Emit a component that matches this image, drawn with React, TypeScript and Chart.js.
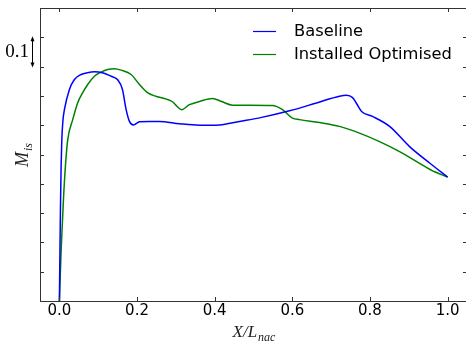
import React, { useEffect, useRef } from "react";
import { Chart, registerables } from "chart.js";

Chart.register(...registerables);

const seriesNames = ["Baseline", "Installed Optimised"];
const seriesColors = ["#0000ff", "#008000"];

const baselineX = [0, 0.0026, 0.0044, 0.0062, 0.009, 0.0129, 0.0258, 0.0387, 0.0559, 0.0722, 0.0902, 0.1108, 0.1332, 0.1495, 0.1624, 0.1719, 0.1804, 0.1907, 0.2062, 0.232, 0.2577, 0.3093, 0.3608, 0.4124, 0.4639, 0.5155, 0.5928, 0.6624, 0.7216, 0.7397, 0.7552, 0.7655, 0.7784, 0.8067, 0.8505, 0.9021, 0.9536, 1.0];
const baselineY = [0, 0.31, 0.46, 0.55, 0.615, 0.653, 0.722, 0.756, 0.773, 0.779, 0.782, 0.779, 0.767, 0.756, 0.722, 0.653, 0.613, 0.601, 0.612, 0.613, 0.613, 0.605, 0.6, 0.601, 0.613, 0.625, 0.649, 0.676, 0.699, 0.702, 0.694, 0.674, 0.647, 0.63, 0.596, 0.527, 0.471, 0.423];

const optimisedX = [0, 0.0044, 0.0103, 0.016, 0.0214, 0.0343, 0.0472, 0.0601, 0.0729, 0.0902, 0.1075, 0.1245, 0.1418, 0.159, 0.1848, 0.2062, 0.2268, 0.25, 0.2758, 0.2912, 0.3041, 0.3144, 0.3351, 0.3608, 0.3943, 0.4175, 0.4459, 0.4897, 0.549, 0.5747, 0.6005, 0.6186, 0.6701, 0.7216, 0.7732, 0.8247, 0.8763, 0.9278, 0.9665, 1.0];
const optimisedY = [0, 0.172, 0.344, 0.47, 0.55, 0.619, 0.677, 0.711, 0.739, 0.767, 0.781, 0.79, 0.793, 0.788, 0.773, 0.739, 0.711, 0.698, 0.689, 0.68, 0.663, 0.653, 0.67, 0.681, 0.691, 0.681, 0.668, 0.668, 0.667, 0.653, 0.624, 0.619, 0.609, 0.596, 0.573, 0.544, 0.51, 0.47, 0.441, 0.423];

const xTickValues = [0, 0.2, 0.4, 0.6, 0.8, 1.0];
const yTickValues = [0, 0.1, 0.2, 0.3, 0.4, 0.5, 0.6, 0.7, 0.8, 0.9, 1.0];
const xAxisTitle = ["X/L", "nac"];
const yAxisTitle = ["M", "is"];
const scaleBarLabel = "0.1";
const scaleBarRange = [0.8, 0.9];

const toPoints = (xs: number[], ys: number[]) => xs.map((x, i) => ({ x, y: ys[i] }));

const decorPlugin = {
  id: "decor",
  afterDraw(chart: any) {
    const ctx = chart.ctx as CanvasRenderingContext2D;
    const { left, right, top, bottom } = chart.chartArea;
    const xs = chart.scales.x;
    const ys = chart.scales.y;
    ctx.save();
    // frame
    ctx.strokeStyle = "#333";
    ctx.lineWidth = 1;
    ctx.strokeRect(Math.round(left) + 0.5, Math.round(top) + 0.5, Math.round(right) - Math.round(left), Math.round(bottom) - Math.round(top));
    // inward ticks
    ctx.beginPath();
    for (const v of xTickValues) {
      const px = Math.round(xs.getPixelForValue(v)) + 0.5;
      ctx.moveTo(px, bottom);
      ctx.lineTo(px, bottom - 4);
      ctx.moveTo(px, top);
      ctx.lineTo(px, top + 4);
    }
    for (const v of yTickValues) {
      const py = Math.round(ys.getPixelForValue(v)) + 0.5;
      ctx.moveTo(left, py);
      ctx.lineTo(left + 4, py);
      ctx.moveTo(right, py);
      ctx.lineTo(right - 4, py);
    }
    ctx.stroke();

    // legend
    ctx.textBaseline = "middle";
    ctx.textAlign = "left";
    ctx.font = "16.3px 'DejaVu Sans'";
    seriesNames.forEach((name, i) => {
      const y = 31 + i * 23;
      ctx.strokeStyle = seriesColors[i];
      ctx.lineWidth = 1.2;
      ctx.beginPath();
      ctx.moveTo(253, y + 0.5);
      ctx.lineTo(276, y + 0.5);
      ctx.stroke();
      ctx.fillStyle = "#000";
      ctx.fillText(name, 294, y + 1);
    });

    // x axis title
    ctx.fillStyle = "#222";
    ctx.textBaseline = "alphabetic";
    const cx = (left + right) / 2;
    ctx.font = "italic 17px 'Liberation Serif'";
    const w1 = ctx.measureText(xAxisTitle[0]).width;
    ctx.font = "italic 12px 'Liberation Serif'";
    const w2 = ctx.measureText(xAxisTitle[1]).width;
    const sx = cx - (w1 + w2) / 2;
    ctx.font = "italic 17px 'Liberation Serif'";
    ctx.fillText(xAxisTitle[0], sx, 337);
    ctx.font = "italic 12px 'Liberation Serif'";
    ctx.fillText(xAxisTitle[1], sx + w1 + 1, 341);

    // y axis title
    ctx.save();
    ctx.translate(28, 167);
    ctx.rotate(-Math.PI / 2);
    ctx.font = "italic 18px 'Liberation Serif'";
    ctx.fillText(yAxisTitle[0], 0, 0);
    const wm = ctx.measureText(yAxisTitle[0]).width;
    ctx.font = "italic 12px 'Liberation Serif'";
    ctx.fillText(yAxisTitle[1], wm + 1, 4);
    ctx.restore();

    // scale bar
    const y1 = ys.getPixelForValue(scaleBarRange[1]);
    const y0 = ys.getPixelForValue(scaleBarRange[0]);
    const ax = 32.5;
    ctx.strokeStyle = "#000";
    ctx.fillStyle = "#000";
    ctx.lineWidth = 1;
    ctx.beginPath();
    ctx.moveTo(ax, y1 + 2);
    ctx.lineTo(ax, y0 - 2);
    ctx.stroke();
    ctx.beginPath();
    ctx.moveTo(ax, y1 - 1);
    ctx.lineTo(ax - 2, y1 + 4);
    ctx.lineTo(ax + 2, y1 + 4);
    ctx.closePath();
    ctx.fill();
    ctx.beginPath();
    ctx.moveTo(ax, y0 + 1);
    ctx.lineTo(ax - 2, y0 - 4);
    ctx.lineTo(ax + 2, y0 - 4);
    ctx.closePath();
    ctx.fill();
    ctx.font = "19px 'Liberation Serif'";
    ctx.textBaseline = "middle";
    ctx.textAlign = "right";
    ctx.fillText(scaleBarLabel, 29, (y0 + y1) / 2);
    ctx.restore();
  },
};

export default function App() {
  const ref = useRef<HTMLCanvasElement | null>(null);
  useEffect(() => {
    if (!ref.current) return;
    const chart = new Chart(ref.current, {
      type: "line",
      data: {
        datasets: [
          {
            label: seriesNames[0],
            data: toPoints(baselineX, baselineY),
            borderColor: seriesColors[0],
            borderWidth: 1.5,
            pointRadius: 0,
            cubicInterpolationMode: "monotone",
            fill: false,
          },
          {
            label: seriesNames[1],
            data: toPoints(optimisedX, optimisedY),
            borderColor: seriesColors[1],
            borderWidth: 1.5,
            pointRadius: 0,
            cubicInterpolationMode: "monotone",
            fill: false,
          },
        ],
      },
      options: {
        animation: false,
        responsive: false,
        devicePixelRatio: 1,
        layout: { padding: { top: 8, right: 1, left: 0, bottom: 0 } },
        plugins: { legend: { display: false }, tooltip: { enabled: false } },
        scales: {
          x: {
            type: "linear",
            min: -0.05,
            max: 1.05,
            afterBuildTicks: (s: any) => {
              s.ticks = xTickValues.map((v) => ({ value: v }));
            },
            afterFit: (s: any) => {
              s.height = 45;
            },
            grid: { display: false, drawTicks: false },
            border: { display: false },
            ticks: {
              padding: 1,
              color: "#000",
              font: { family: "'DejaVu Sans'", size: 15 },
              maxRotation: 0,
              callback: (v: any) => Number(v).toFixed(1),
            },
          },
          y: {
            type: "linear",
            min: 0,
            max: 1,
            afterBuildTicks: (s: any) => {
              s.ticks = yTickValues.map((v) => ({ value: v }));
            },
            afterFit: (s: any) => {
              s.width = 40;
            },
            grid: { display: false, drawTicks: false },
            border: { display: false },
            ticks: { display: false },
          },
        },
      },
      plugins: [decorPlugin],
    });
    return () => chart.destroy();
  }, []);
  return (
    <div style={{ position: "fixed", left: 0, top: 0, width: 466, height: 346, overflow: "hidden", background: "#fff" }}>
      <canvas ref={ref} width={468} height={346} style={{ display: "block" }} />
    </div>
  );
}
